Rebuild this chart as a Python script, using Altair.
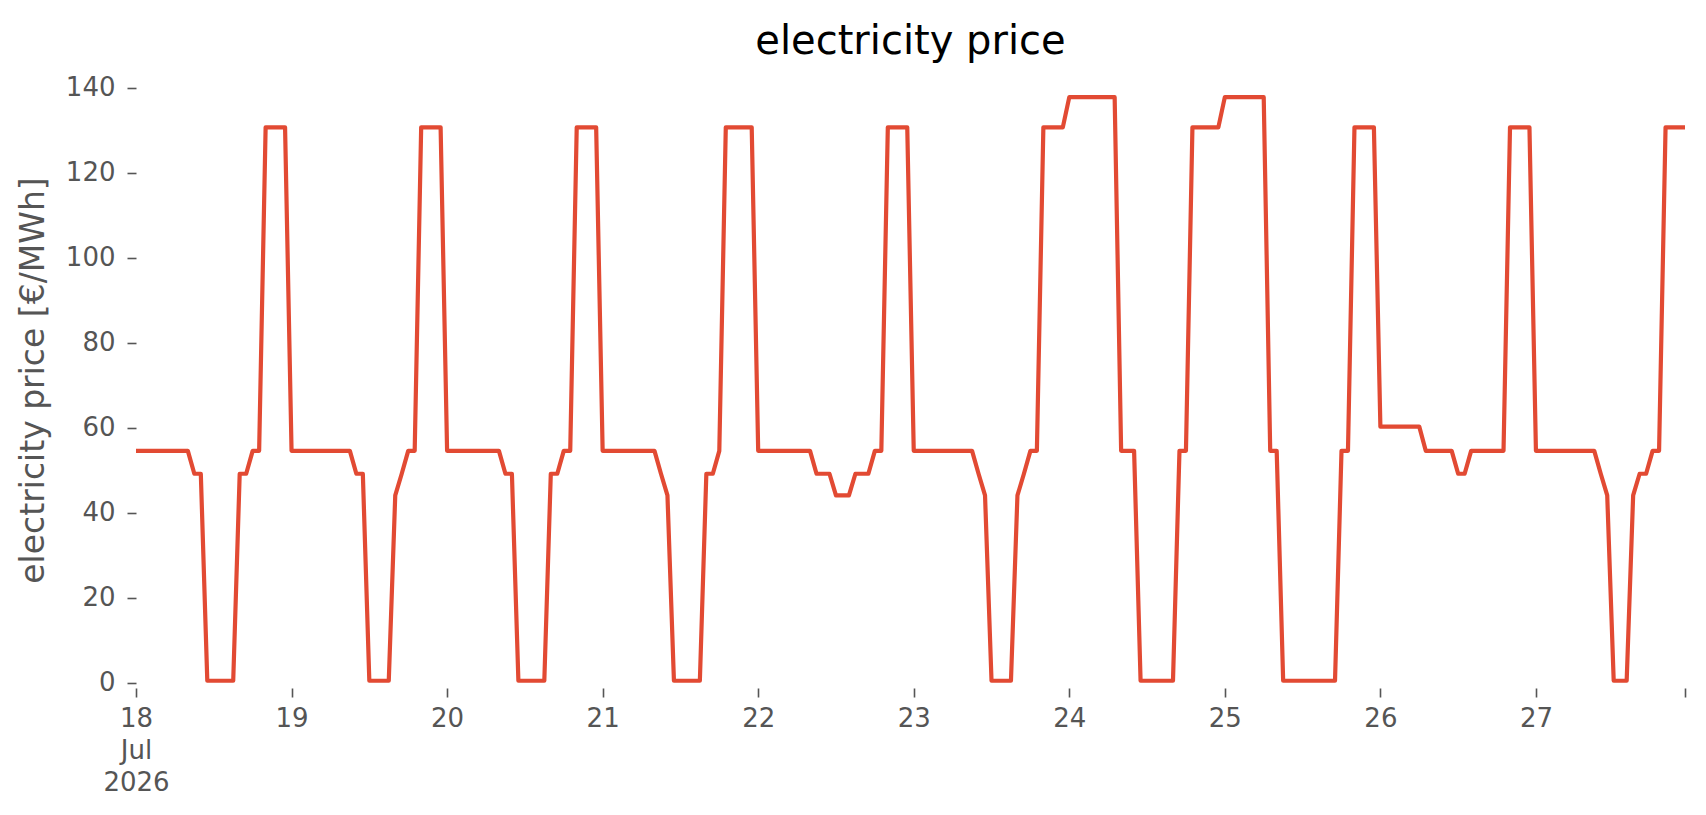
import altair as alt
import pandas as pd

# hourly electricity price [€/MWh], one list per day (00:00 ... 23:00)
day_18 = [54.6, 54.6, 54.6, 54.6, 54.6, 54.6, 54.6, 54.6, 54.6, 49.2, 49.2, 0.5,
          0.5, 0.5, 0.5, 0.5, 49.2, 49.2, 54.6, 54.6, 130.7, 130.7, 130.7, 130.7]
day_19 = [54.6, 54.6, 54.6, 54.6, 54.6, 54.6, 54.6, 54.6, 54.6, 54.6, 49.2, 49.2,
          0.5, 0.5, 0.5, 0.5, 44.1, 49.2, 54.6, 54.6, 130.7, 130.7, 130.7, 130.7]
day_20 = [54.6, 54.6, 54.6, 54.6, 54.6, 54.6, 54.6, 54.6, 54.6, 49.2, 49.2, 0.5,
          0.5, 0.5, 0.5, 0.5, 49.2, 49.2, 54.6, 54.6, 130.7, 130.7, 130.7, 130.7]
day_21 = [54.6, 54.6, 54.6, 54.6, 54.6, 54.6, 54.6, 54.6, 54.6, 49.2, 44.1, 0.5,
          0.5, 0.5, 0.5, 0.5, 49.2, 49.2, 54.6, 130.7, 130.7, 130.7, 130.7, 130.7]
day_22 = [54.6, 54.6, 54.6, 54.6, 54.6, 54.6, 54.6, 54.6, 54.6, 49.2, 49.2, 49.2,
          44.1, 44.1, 44.1, 49.2, 49.2, 49.2, 54.6, 54.6, 130.7, 130.7, 130.7, 130.7]
day_23 = [54.6, 54.6, 54.6, 54.6, 54.6, 54.6, 54.6, 54.6, 54.6, 54.6, 49.2, 44.1,
          0.5, 0.5, 0.5, 0.5, 44.1, 49.2, 54.6, 54.6, 130.7, 130.7, 130.7, 130.7]
day_24 = [137.8, 137.8, 137.8, 137.8, 137.8, 137.8, 137.8, 137.8, 54.6, 54.6, 54.6, 0.5,
          0.5, 0.5, 0.5, 0.5, 0.5, 54.6, 54.6, 130.7, 130.7, 130.7, 130.7, 130.7]
day_25 = [137.8, 137.8, 137.8, 137.8, 137.8, 137.8, 137.8, 54.6, 54.6, 0.5, 0.5, 0.5,
          0.5, 0.5, 0.5, 0.5, 0.5, 0.5, 54.6, 54.6, 130.7, 130.7, 130.7, 130.7]
day_26 = [60.3, 60.3, 60.3, 60.3, 60.3, 60.3, 60.3, 54.6, 54.6, 54.6, 54.6, 54.6,
          49.2, 49.2, 54.6, 54.6, 54.6, 54.6, 54.6, 54.6, 130.7, 130.7, 130.7, 130.7]
day_27 = [54.6, 54.6, 54.6, 54.6, 54.6, 54.6, 54.6, 54.6, 54.6, 54.6, 49.2, 44.1,
          0.5, 0.5, 0.5, 44.1, 49.2, 49.2, 54.6, 54.6, 130.7, 130.7, 130.7, 130.7]

day_lists = [day_18, day_19, day_20, day_21, day_22, day_23, day_24, day_25, day_26, day_27]
y_ticks = [0, 20, 40, 60, 80, 100, 120, 140]
tick_days = [18, 19, 20, 21, 22, 23, 24, 25, 26, 27]

prices = []
for d in day_lists:
    prices.extend(d)
times = pd.date_range("2026-07-18 00:00", periods=len(prices), freq="h")
df = pd.DataFrame({"time": times.strftime("%Y-%m-%dT%H:%M:%S"), "price": prices})

FONT = "DejaVu Sans"
GREY = "#555555"

x_values = [alt.DateTime(year=2026, month=7, date=d) for d in tick_days] + [
    alt.DateTime(year=2026, month=7, date=27, hours=23)
]

label_expr = (
    "datum.value >= datetime(2026, 6, 27, 12) ? '' : "
    "(date(datum.value) == 18 ? ['18', 'Jul', '2026'] : timeFormat(datum.value, '%-d'))"
)

chart = (
    alt.Chart(df)
    .mark_line(color="#E24A33", strokeWidth=4.2, strokeJoin="round", strokeCap="butt")
    .encode(
        x=alt.X(
            "time:T",
            title=None,
            scale=alt.Scale(
                domain=[
                    alt.DateTime(year=2026, month=7, date=18),
                    alt.DateTime(year=2026, month=7, date=27, hours=23),
                ],
                nice=False,
            ),
            axis=alt.Axis(
                values=x_values,
                labelExpr=label_expr,
                labelOverlap=False,
                labelFlush=False,
                domain=False,
                grid=False,
                tickSize=9,
                tickWidth=1.6,
                tickColor=GREY,
                labelColor=GREY,
                labelFont=FONT,
                labelFontSize=26,
                labelPadding=8,
                labelLineHeight=32,
                labelBaseline="top",
            ),
        ),
        y=alt.Y(
            "price:Q",
            title="electricity price [€/MWh]",
            scale=alt.Scale(domain=[-1.2, 140.9], nice=False, zero=False),
            axis=alt.Axis(
                values=y_ticks,
                domain=False,
                grid=False,
                tickSize=9,
                tickWidth=1.6,
                tickColor=GREY,
                labelColor=GREY,
                labelFont=FONT,
                labelFontSize=26,
                labelPadding=12,
                titleFont=FONT,
                titleFontSize=33,
                titleFontWeight="normal",
                titleColor=GREY,
                titleBaseline="alphabetic",
                titleX=-93,
                titleY=296,
            ),
        ),
    )
    .properties(
        width=1549,
        height=604,
        title=alt.TitleParams(
            "electricity price",
            font=FONT,
            fontSize=40,
            fontWeight="normal",
            color="black",
            anchor="middle",
            baseline="alphabetic",
            offset=31,
            dy=50,
        ),
        autosize=alt.AutoSizeParams(type="none"),
        padding={"left": 128, "top": 76, "right": 13, "bottom": 119},
        background="white",
    )
    .configure_view(stroke=None)
)

chart.save("out.html", embed_options={"renderer": "svg", "actions": False})
